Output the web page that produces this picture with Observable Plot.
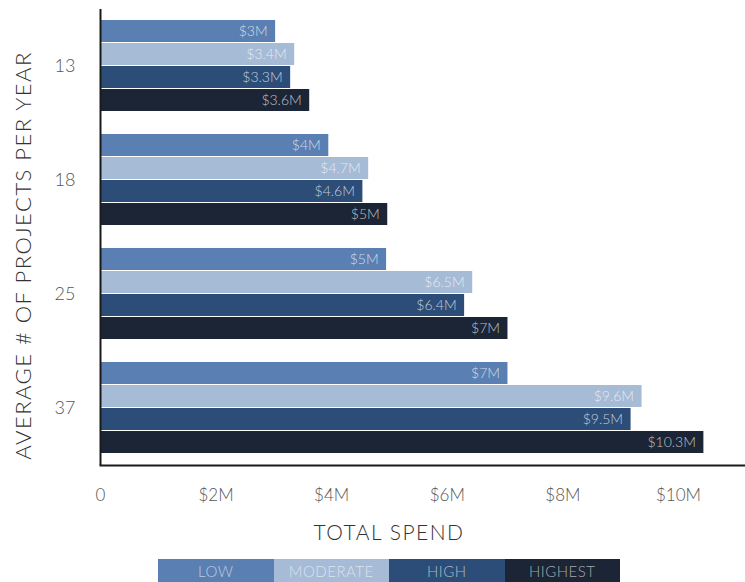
<!DOCTYPE html>
<html>
<head>
<meta charset="utf-8">
<script src="https://cdn.jsdelivr.net/npm/d3@7"></script>
<script src="https://cdn.jsdelivr.net/npm/@observablehq/plot@0.6"></script>
<style>
  html, body { margin: 0; padding: 0; background: #fff; }
  body { width: 745px; height: 582px; overflow: hidden; font-family: "Lato Light", Lato, sans-serif; font-weight: 300; }
  #chart svg { display: block; font-family: "Lato Light", Lato, sans-serif; font-weight: 300; }
  g[aria-label="fy-axis label"] text { font-size: 22px; letter-spacing: 1.5px; fill: #333; }
  #xtitle { position: relative; width: 578px; margin-left: 100px; text-align: center; font-size: 21px; letter-spacing: 1.5px; color: #333; height: 34px; line-height: 34px; }
  #legend { display: flex; margin-left: 158px; margin-top: 10px; }
  #legend div { width: 115.5px; height: 24px; line-height: 24px; text-align: center; font-size: 15px; letter-spacing: 0.5px; }
</style>
</head>
<body>
<div id="chart"></div>
<div id="xtitle"></div>
<div id="legend"></div>
<script>
// Data
const groups = ["13", "18", "25", "37"];
const levels = ["LOW", "MODERATE", "HIGH", "HIGHEST"];
const colors = ["#5a7fb2", "#a6bbd6", "#2c4d78", "#1b2536"];
// bar lengths in $M, one array per level, ordered by groups
const lowValues      = [3.03, 3.95, 4.95, 7.05];
const moderateValues = [3.36, 4.64, 6.44, 9.37];
const highValues     = [3.29, 4.54, 6.30, 9.18];
const highestValues  = [3.62, 4.97, 7.05, 10.44];
// labels as printed on the bars
const lowLabels      = ["$3M", "$4M", "$5M", "$7M"];
const moderateLabels = ["$3.4M", "$4.7M", "$6.5M", "$9.6M"];
const highLabels     = ["$3.3M", "$4.6M", "$6.4M", "$9.5M"];
const highestLabels  = ["$3.6M", "$5M", "$7M", "$10.3M"];
const xTicks = [0, 2, 4, 6, 8, 10];
const xTitle = "TOTAL SPEND";
const yTitle = "AVERAGE # OF PROJECTS PER YEAR";

const seriesValues = [lowValues, moderateValues, highValues, highestValues];
const seriesLabels = [lowLabels, moderateLabels, highLabels, highestLabels];
const data = [];
groups.forEach((g, gi) => {
  levels.forEach((l, li) => {
    data.push({group: g, level: l, value: seriesValues[li][gi], label: seriesLabels[li][gi]});
  });
});

const chart = Plot.plot({
  width: 745,
  height: 515,
  marginLeft: 100,
  marginRight: 0,
  marginTop: 8,
  marginBottom: 49,
  style: {fontFamily: "'Lato Light', Lato, sans-serif", background: "#fff"},
  x: {domain: [0, 11.16]},
  y: {domain: levels, paddingInner: 0.04, paddingOuter: 0.43, axis: null},
  fy: {domain: groups, padding: 0},
  color: {domain: levels, range: colors},
  marks: [
    Plot.barX(data, {x: "value", y: "level", fy: "group", fill: "level"}),
    Plot.text(data, {x: "value", y: "level", fy: "group", text: "label", textAnchor: "end", dx: -8, fill: "#ffffff", fillOpacity: 0.72, fontSize: 14}),
    Plot.ruleX([0], {stroke: "#1a1a1a", strokeWidth: 2}),
    Plot.frame({anchor: "bottom", facetAnchor: "bottom", stroke: "#1a1a1a", strokeWidth: 2}),
    Plot.axisX({ticks: xTicks, tickSize: 0, tickPadding: 23, tickFormat: d => d === 0 ? "0" : `$${d}M`, label: null, fontSize: 17, color: "#555"}),
    Plot.axisFy({anchor: "left", tickSize: 0, tickPadding: 25, label: yTitle, labelAnchor: "center", labelOffset: 85, fontSize: 18, color: "#555"})
  ]
});
document.getElementById("chart").appendChild(chart);
// nudge the rotated y title slightly downward, as in the reference
d3.select(chart).selectAll('g[aria-label="fy-axis label"] text').attr("dx", "-18");
document.getElementById("xtitle").textContent = xTitle;

const legend = d3.select("#legend");
levels.forEach((l, i) => {
  legend.append("div")
    .style("background", colors[i])
    .style("color", "rgba(255,255,255,0.6)")
    .text(l);
});
</script>
</body>
</html>
